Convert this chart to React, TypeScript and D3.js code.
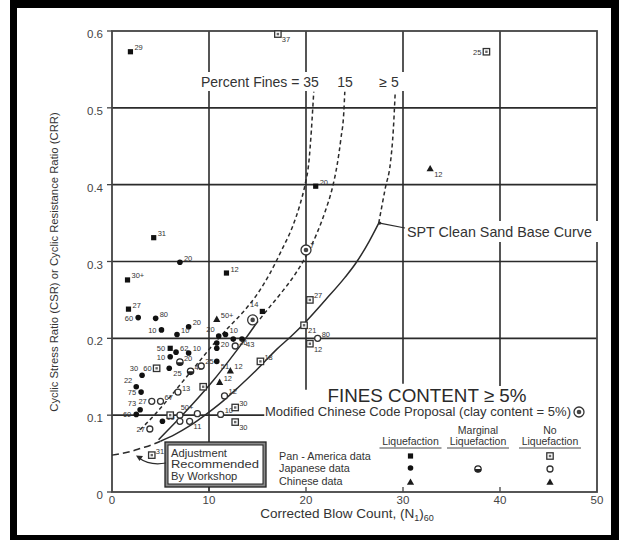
import React from "react";
import * as d3 from "d3";

type Pt = [number, number, string, string?];

const xTicks = [0, 10, 20, 30, 40, 50];
const xTickLabels = ["0", "10", "20", "30", "40", "50"];
const yTicks = [0, 0.1, 0.2, 0.3, 0.4, 0.5, 0.6];
const yTickLabels = ["0", "0.1", "0.2", "0.3", "0.4", "0.5", "0.6"];

// Curves (N1)60 vs CRR
const cleanSandSolid: [number, number][] = [
  [5, 0.066], [6.5, 0.075], [8, 0.086], [10, 0.104], [11.5, 0.119], [13, 0.136], [15, 0.16],
  [17, 0.186], [18.5, 0.203], [20, 0.222], [22, 0.25], [24, 0.279], [25.2, 0.299], [26.5, 0.326], [27.5, 0.35],
];
const cleanSandDashed: [number, number][] = [
  [27.5, 0.35], [28.2, 0.397], [28.7, 0.428], [29.0, 0.471], [29.2, 0.521],
];
const workshopAdjustment: [number, number][] = [
  [0, 0.048], [1, 0.05], [2, 0.053], [3, 0.057], [4, 0.061], [5, 0.066],
];
const fines15Solid: [number, number][] = [
  [4.8, 0.068], [6.5, 0.09], [8.5, 0.117], [10.5, 0.146], [12, 0.17], [13.5, 0.195], [14.8, 0.218],
];
const fines15Dashed: [number, number][] = [
  [14.8, 0.218], [16.2, 0.24], [17.5, 0.26], [18.8, 0.282], [20, 0.307], [21.1, 0.336], [22, 0.366],
  [22.7, 0.395], [23.2, 0.425], [23.6, 0.46], [23.9, 0.495], [24.0, 0.521],
];
const fines35Dashed: [number, number][] = [
  [2.9, 0.081], [4.5, 0.102], [6, 0.124], [7.5, 0.147], [9, 0.17], [10.5, 0.193], [12, 0.214],
  [13.5, 0.234], [15, 0.258], [16.3, 0.285], [17.5, 0.315], [18.6, 0.345], [19.4, 0.375], [19.9, 0.4],
  [20.3, 0.43], [20.55, 0.47], [20.7, 0.5], [20.8, 0.521],
];

// Case histories: [N1,60, CSR, label, label side]
const panAmericaLiquefaction: Pt[] = [
  [1.9, 0.573, "29"], [21.0, 0.398, "20"], [4.3, 0.331, "31"], [11.8, 0.285, "12"],
  [1.6, 0.276, "30+"], [1.7, 0.238, "27"], [15.5, 0.235, "14", "lt"], [6.0, 0.187, "50", "l"],
];
const japaneseLiquefaction: Pt[] = [
  [7.0, 0.299, "20"], [2.7, 0.227, "60", "l"], [4.5, 0.226, "80"], [7.9, 0.215, "20"],
  [5.1, 0.211, "10", "l"], [6.7, 0.205, "10"], [11.0, 0.203, "20", "lt"], [11.7, 0.205, "10"],
  [12.5, 0.199, ""], [13.4, 0.199, "43", "b"], [10.8, 0.194, ""], [10.8, 0.187, "20"],
  [6.0, 0.176, "10", "l"], [6.6, 0.182, "62"], [7.9, 0.181, "10"], [5.9, 0.161, "25", "b"],
  [10.8, 0.17, "51", "b"], [3.1, 0.152, "30", "lt"], [2.5, 0.137, "22", "lt"], [3.0, 0.13, "75", "l"],
  [2.9, 0.107, "73", "lt"], [2.5, 0.101, "60", "l"], [5.2, 0.092, "10"],
];
const japaneseMarginal: Pt[] = [[7.0, 0.169, "20"], [8.1, 0.157, "42"]];
const japaneseNoLiquefaction: Pt[] = [
  [12.7, 0.19, "26"], [9.2, 0.164, "25"], [4.1, 0.118, "27", "l"], [5.0, 0.118, "67"],
  [6.8, 0.13, "13"], [11.6, 0.125, "12"], [11.2, 0.101, "10"], [8.8, 0.102, "50+", "lt"],
  [7.0, 0.1, ""], [8.0, 0.092, "11", "b"], [7.0, 0.092, ""], [3.9, 0.082, "27", "l"], [21.2, 0.2, "80"],
];
const panAmericaNoLiquefaction: Pt[] = [
  [17.1, 0.596, "37", "b"], [38.6, 0.573, "25", "l"], [20.4, 0.25, "27"], [4.6, 0.161, "60", "l"],
  [15.3, 0.17, "18"], [12.7, 0.11, "30"], [12.7, 0.091, "30", "b"], [6.0, 0.1, ""],
  [4.1, 0.048, "31"], [19.8, 0.217, "21", "b"], [20.4, 0.193, "12", "b"], [9.4, 0.137, ""],
];
const chineseLiquefaction: Pt[] = [[10.8, 0.225, "50+"], [12.2, 0.158, "12"], [11.1, 0.143, "12"]];
const chineseNoLiquefaction: Pt[] = [[32.8, 0.421, "12", "b"]];
const modifiedChineseCode: Pt[] = [[20.0, 0.315, "7"], [14.5, 0.224, ""]];

const adjustmentLines = ["Adjustment", "Recommended", "By Workshop"];
const legendRows = ["Pan - America data", "Japanese data", "Chinese data"];
const FONT = "'Liberation Sans', Arial, Helvetica, sans-serif";
const INK = "#2b2b2b";

function Marker({ kind, cx, cy }: { kind: string; cx: number; cy: number }) {
  switch (kind) {
    case "paLiq":
      return <rect x={cx - 2.6} y={cy - 2.6} width={5.2} height={5.2} fill="#111" />;
    case "jpLiq":
      return <circle cx={cx} cy={cy} r={2.8} fill="#111" />;
    case "jpMarg":
      return (
        <g>
          <circle cx={cx} cy={cy} r={3.2} fill="#fff" stroke="#222" strokeWidth={1.2} />
          <path d={`M${cx - 3.2},${cy} A3.2,3.2 0 0 0 ${cx + 3.2},${cy} Z`} fill="#222" />
        </g>
      );
    case "jpNo":
      return <circle cx={cx} cy={cy} r={3} fill="#fff" stroke="#333" strokeWidth={1.3} />;
    case "paNo":
      return (
        <g>
          <rect x={cx - 3.2} y={cy - 3.2} width={6.4} height={6.4} fill="#fff" stroke="#333" strokeWidth={1.3} />
          <rect x={cx - 1.2} y={cy - 1.2} width={2.4} height={2.4} fill="#666" />
        </g>
      );
    case "cnLiq":
    case "cnNo":
      return <path d={`M${cx},${cy - 3.6} L${cx + 3.6},${cy + 2.8} L${cx - 3.6},${cy + 2.8} Z`} fill="#1a1a1a" />;
    case "mcc":
      return (
        <g>
          <circle cx={cx} cy={cy} r={5} fill="#fff" stroke="#333" strokeWidth={1.3} />
          <circle cx={cx} cy={cy} r={2.3} fill="#444" />
        </g>
      );
    default:
      return null;
  }
}

export default function App() {
  const x = d3.scaleLinear().domain([0, 50]).range([112, 597]);
  const y = d3.scaleLinear().domain([0, 0.6]).range([492, 31]);
  const line = d3
    .line<[number, number]>()
    .x((d) => x(d[0]))
    .y((d) => y(d[1]))
    .curve(d3.curveMonotoneX);

  const series: [string, Pt[]][] = [
    ["paLiq", panAmericaLiquefaction],
    ["jpLiq", japaneseLiquefaction],
    ["jpMarg", japaneseMarginal],
    ["jpNo", japaneseNoLiquefaction],
    ["paNo", panAmericaNoLiquefaction],
    ["cnLiq", chineseLiquefaction],
    ["cnNo", chineseNoLiquefaction],
    ["mcc", modifiedChineseCode],
  ];

  const gridV: [number, number, number][] = [
    [10, 0, 0.6],
    [20, 0.133, 0.6],
    [30, 0.141, 0.6],
    [40, 0.138, 0.6],
  ];
  const gridH: [number, number, number][] = [
    [0.5, 0, 50],
    [0.4, 0, 50],
    [0.3, 0, 50],
    [0.2, 0, 50],
    [0.1, 0, 15.7],
  ];

  const labelPos = (side: string | undefined, cx: number, cy: number) => {
    if (side === "l") return { x: cx - 5, y: cy + 3, a: "end" };
    if (side === "lt") return { x: cx - 4, y: cy - 4, a: "end" };
    if (side === "b") return { x: cx + 4, y: cy + 8, a: "start" };
    return { x: cx + 4, y: cy - 1.5, a: "start" };
  };

  const legCols = [410.5, 478, 550];

  return (
    <svg
      width={619}
      height={540}
      style={{ position: "absolute", left: 0, top: 0, background: "#fff" }}
      fontFamily={FONT}
    >
      {/* frame */}
      <rect x={10} y={0} width={609} height={540} fill="#000" />
      <rect x={17} y={8} width={594} height={527} fill="#fff" />

      {/* grid */}
      <g stroke={INK} strokeWidth={1.6}>
        {gridV.map(([v, a, b]) => (
          <line key={"v" + v} x1={x(v)} x2={x(v)} y1={y(a)} y2={y(b)} />
        ))}
        {gridH.map(([v, a, b]) => (
          <line key={"h" + v} x1={x(a)} x2={x(b)} y1={y(v)} y2={y(v)} />
        ))}
      </g>
      {/* axes box */}
      <rect x={x(0)} y={y(0.6)} width={x(50) - x(0)} height={y(0) - y(0.6)} fill="none" stroke="#444" strokeWidth={1.8} />
      <g stroke="#444" strokeWidth={1.3}>
        {yTicks.map((t) => (
          <line key={"yt" + t} x1={x(0) - 5} x2={x(0)} y1={y(t)} y2={y(t)} />
        ))}
        {xTicks.slice(1, 5).map((t) => (
          <line key={"xt" + t} x1={x(t)} x2={x(t)} y1={y(0)} y2={y(0) - 5} />
        ))}
      </g>

      {/* white masks behind annotation text */}
      <rect x={198} y={72} width={206} height={19} fill="#fff" />
      <rect x={406} y={221} width={192} height={21} fill="#fff" />

      {/* curves */}
      <g fill="none" stroke={INK} strokeWidth={1.5}>
        <path d={line(cleanSandSolid) || ""} />
        <path d={line(fines15Solid) || ""} />
        <path d={line(cleanSandDashed) || ""} strokeDasharray="4,3" />
        <path d={line(fines15Dashed) || ""} strokeDasharray="4,3" />
        <path d={line(fines35Dashed) || ""} strokeDasharray="4,3" />
        <path d={line(workshopAdjustment) || ""} strokeDasharray="7,4" />
      </g>

      {/* SPT pointer */}
      <line x1={x(27.6)} y1={y(0.35)} x2={405} y2={228} stroke={INK} strokeWidth={1.2} />
      <circle cx={x(27.6)} cy={y(0.35)} r={1.6} fill={INK} />

      {/* points */}
      {series.map(([kind, pts]) =>
        pts.map((p, i) => {
          const cx = x(p[0]);
          const cy = y(p[1]);
          const lp = labelPos(p[3], cx, cy);
          return (
            <g key={kind + i}>
              <Marker kind={kind} cx={cx} cy={cy} />
              {p[2] ? (
                <text x={lp.x} y={lp.y} fontSize={7.5} fill="#333" textAnchor={lp.a as any}>
                  {p[2]}
                </text>
              ) : null}
            </g>
          );
        })
      )}

      {/* Adjustment box */}
      <rect x={165} y={442} width={101} height={45} fill="#8a8a8a" stroke="#222" strokeWidth={1.3} />
      <rect x={168} y={445} width={95} height={39} fill="#fff" stroke="#222" strokeWidth={1} />
      <g fontSize={11.2} fill="#333">
        {adjustmentLines.map((t, i) => (
          <text key={t} x={171} y={456.5 + i * 11.6} textLength={i === 1 ? 88 : undefined} lengthAdjust="spacingAndGlyphs">
            {t}
          </text>
        ))}
      </g>
      <path d="M166,463 Q150,466 139,458" fill="none" stroke={INK} strokeWidth={1.2} />
      <path d="M136,455.5 L143,456 L139.5,461 Z" fill={INK} />

      {/* annotation text */}
      <text x={201} y={87} fontSize={14} fill="#333">Percent Fines = 35</text>
      <text x={345} y={87} fontSize={14} fill="#333" textAnchor="middle">15</text>
      <text x={389} y={87} fontSize={14} fill="#333" textAnchor="middle">≥ 5</text>
      <text x={407} y={237} fontSize={14.3} fill="#333">SPT Clean Sand Base Curve</text>
      <text x={427} y={402} fontSize={18.8} fill="#2a2a2a" textAnchor="middle">FINES CONTENT ≥ 5%</text>
      <text x={265} y={416} fontSize={12} fill="#333" textLength={306} lengthAdjust="spacingAndGlyphs">
        Modified Chinese Code Proposal (clay content = 5%)
      </text>
      <Marker kind="mcc" cx={579} cy={412} />

      {/* legend */}
      <g fontSize={10.5} fill="#333" textAnchor="middle">
        <text x={legCols[1]} y={434}>Marginal</text>
        <text x={legCols[2]} y={434}>No</text>
        {legCols.map((c) => (
          <text key={"lq" + c} x={c} y={445}>Liquefaction</text>
        ))}
      </g>
      <g stroke="#333" strokeWidth={0.9}>
        {legCols.map((c) => (
          <line key={"ul" + c} x1={c - 31} x2={c + 31} y1={448} y2={448} />
        ))}
      </g>
      <g fontSize={10.8} fill="#333">
        {legendRows.map((r, i) => (
          <text key={r} x={279} y={459.5 + i * 12.5}>{r}</text>
        ))}
      </g>
      <Marker kind="paLiq" cx={legCols[0]} cy={456} />
      <Marker kind="paNo" cx={legCols[2]} cy={456} />
      <Marker kind="jpLiq" cx={legCols[0]} cy={468} />
      <Marker kind="jpMarg" cx={legCols[1]} cy={469} />
      <Marker kind="jpNo" cx={legCols[2]} cy={469} />
      <Marker kind="cnLiq" cx={legCols[0]} cy={482} />
      <Marker kind="cnNo" cx={legCols[2]} cy={482} />

      {/* tick labels */}
      <g fontSize={11.5} fill="#444">
        {yTicks.map((t, i) => (
          <text key={"yl" + t} x={103} y={y(t) + 7} textAnchor="end">
            {yTickLabels[i]}
          </text>
        ))}
        {xTicks.map((t, i) => (
          <text key={"xl" + t} x={x(t)} y={504} textAnchor="middle">
            {xTickLabels[i]}
          </text>
        ))}
      </g>

      {/* axis titles */}
      <text transform="translate(58,262) rotate(-90)" fontSize={11.3} fill="#333" textAnchor="middle">
        Cyclic Stress Ratio (CSR) or Cyclic Resistance Ratio (CRR)
      </text>
      <text x={347} y={518} fontSize={13.5} fill="#333" textAnchor="middle">
        Corrected Blow Count, (N<tspan fontSize={9} dy={3}>1</tspan>
        <tspan dy={-3}>)</tspan>
        <tspan fontSize={9} dy={3}>60</tspan>
      </text>
    </svg>
  );
}
